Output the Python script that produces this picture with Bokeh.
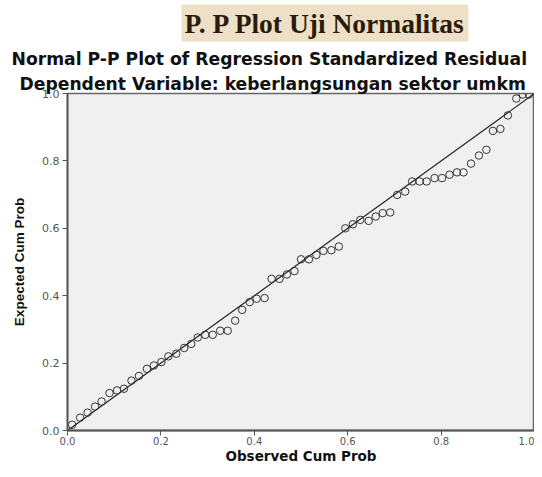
from bokeh.plotting import figure
from bokeh.models import FixedTicker, Range1d, Title
from bokeh.embed import file_html
from bokeh.resources import INLINE

# ---- data ----
observed_cum_prob = [0.010, 0.027, 0.043, 0.059, 0.073, 0.090, 0.106, 0.121, 0.137, 0.153,
                     0.170, 0.185, 0.201, 0.216, 0.233, 0.250, 0.265, 0.279, 0.295, 0.311,
                     0.327, 0.343, 0.359, 0.374, 0.390, 0.405, 0.422, 0.437, 0.454, 0.470,
                     0.486, 0.500, 0.517, 0.533, 0.548, 0.565, 0.581, 0.595, 0.611, 0.627,
                     0.645, 0.660, 0.675, 0.691, 0.706, 0.723, 0.738, 0.754, 0.769, 0.786,
                     0.802, 0.818, 0.834, 0.848, 0.864, 0.881, 0.897, 0.911, 0.927, 0.943,
                     0.961, 0.975, 0.988]
expected_cum_prob = [0.017, 0.038, 0.053, 0.071, 0.086, 0.111, 0.119, 0.124, 0.148, 0.162,
                     0.183, 0.193, 0.203, 0.220, 0.228, 0.245, 0.257, 0.276, 0.284, 0.284,
                     0.296, 0.296, 0.326, 0.358, 0.381, 0.391, 0.393, 0.450, 0.450, 0.463,
                     0.473, 0.508, 0.508, 0.521, 0.533, 0.535, 0.546, 0.600, 0.612, 0.625,
                     0.622, 0.635, 0.645, 0.647, 0.699, 0.709, 0.739, 0.739, 0.739, 0.749,
                     0.749, 0.759, 0.766, 0.766, 0.792, 0.816, 0.833, 0.889, 0.895, 0.935,
                     0.985, 0.997, 0.997]
reference_x = [0.0, 1.0]
reference_y = [0.0, 1.0]
tick_values = [0.0, 0.2, 0.4, 0.6, 0.8, 1.0]
tick_labels = ["0.0", "0.2", "0.4", "0.6", "0.8", "1.0"]

title_text = "P. P Plot Uji Normalitas"
subtitle_1 = "Normal P-P Plot of Regression Standardized Residual"
subtitle_2 = "Dependent Variable: keberlangsungan sektor umkm"
x_label = "Observed Cum Prob"
y_label = "Expected Cum Prob"

p = figure(frame_width=467, frame_height=337, output_backend="svg", toolbar_location=None,
           x_range=Range1d(0, 1), y_range=Range1d(0, 1), title=None,
           min_border_left=67, min_border_right=0, min_border_top=91, min_border_bottom=0)

p.background_fill_color = "#F0F0F0"
p.border_fill_color = "white"
p.outline_line_color = "#666666"
p.outline_line_width = 1.5
p.xgrid.visible = False
p.ygrid.visible = False

for ax in (p.xaxis[0], p.yaxis[0]):
    ax.ticker = FixedTicker(ticks=tick_values)
    ax.major_label_overrides = {v: s for v, s in zip(tick_values, tick_labels)}
    ax.axis_line_color = "#555555"
    ax.axis_line_width = 1.8
    ax.major_tick_in = 0
    ax.major_tick_out = 5
    ax.major_tick_line_color = "#555555"
    ax.minor_tick_line_color = None
    ax.major_label_text_font = "DejaVu Sans"
    ax.major_label_text_color = "#555555"
    ax.axis_label_text_color = "#111111"
    ax.axis_label_text_font_style = "bold"

p.xaxis[0].major_label_text_font_size = "10px"
p.xaxis[0].axis_label = x_label
p.xaxis[0].axis_label_text_font = "DejaVu Sans"
p.xaxis[0].axis_label_text_font_size = "13.5px"
p.xaxis[0].axis_label_standoff = 0
p.xaxis[0].major_label_standoff = 1

p.yaxis[0].major_label_text_font_size = "11px"
p.yaxis[0].axis_label = y_label
p.yaxis[0].axis_label_text_font = "Liberation Sans"
p.yaxis[0].axis_label_text_font_size = "13.5px"
p.yaxis[0].axis_label_standoff = 12
p.yaxis[0].major_label_standoff = 3

p.line(reference_x, reference_y, line_color="#222222", line_width=1.2)
p.scatter(observed_cum_prob, expected_cum_prob, marker="circle", size=7.5,
          fill_color=None, line_color="#333333", line_width=1)

# titles stacked above the frame (first added sits closest to the frame)
p.add_layout(Title(text=subtitle_2, align="left", offset=-48, standoff=0,
                   text_font="DejaVu Sans", text_font_style="bold", text_font_size="17.2px",
                   text_color="#111111"), "above")
p.add_layout(Title(text=subtitle_1, align="left", offset=-56, standoff=6,
                   text_font="DejaVu Sans", text_font_style="bold", text_font_size="17.2px",
                   text_color="#111111"), "above")
p.add_layout(Title(text=title_text, align="left", offset=114, standoff=4,
                   text_font="Liberation Serif", text_font_style="bold", text_font_size="27.5px",
                   text_color="#2B1B0B", background_fill_color="#EDE0C6", padding=3), "above")

open("out.html", "w").write(file_html(p, INLINE))
